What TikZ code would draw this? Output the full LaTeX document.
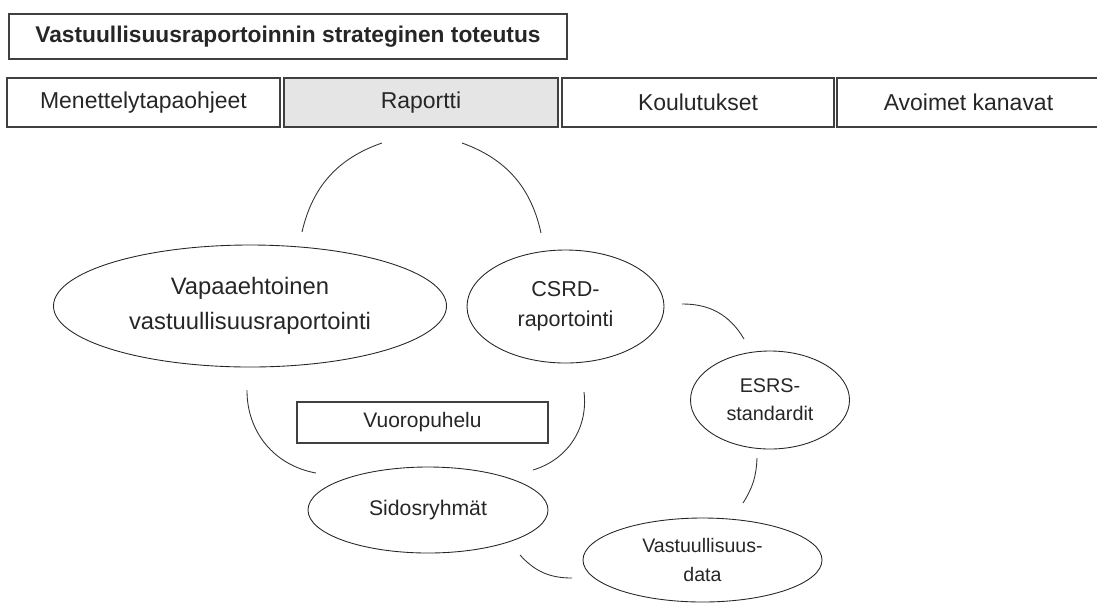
\documentclass[tikz,border=0pt]{standalone}
\usepackage{fontspec}
\setmainfont{Liberation Sans}
\usetikzlibrary{shapes.geometric}

\tikzset{
  box/.style={draw=black!75, line width=0.9pt, inner sep=0pt, text=black!85},
  tabbox/.style={box, minimum height=1.47cm, font={\fontsize{19.6}{24}\selectfont}},
  oval/.style={ellipse, draw=black!85, line width=0.75pt, inner sep=0pt, align=center, text=black!85},
  arcline/.style={draw=black!80, line width=0.75pt}
}

\begin{document}
\begin{tikzpicture}[x=0.03cm, y=-0.03cm]
    \useasboundingbox (0,0) rectangle (1097,603);

    % header
    \node[box, minimum width=16.74cm, minimum height=1.35cm,
          font={\fontsize{19.4}{24}\selectfont\bfseries}] (title) at (288, 36.5)
          {Vastuullisuusraportoinnin strateginen toteutus};

    \node[tabbox, minimum width=8.19cm] (ohjeet) at (143.5, 102.5) {Menettelytapaohjeet};
    \node[tabbox, minimum width=8.22cm, fill=black!10] (raportti) at (421, 102.5) {Raportti};
    \node[tabbox, minimum width=8.16cm] (koulutus) at (698, 102.5) {Koulutukset};
    \node[tabbox, minimum width=7.89cm] (kanavat) at (968.5, 102.5) {Avoimet kanavat};

    % cycle
    \node[oval, minimum width=11.79cm, minimum height=3.66cm,
          font={\fontsize{20.3}{30}\selectfont}] (vapaa) at (250, 306)
          {Vapaaehtoinen\\vastuullisuusraportointi};
    \node[oval, minimum width=5.91cm, minimum height=3.39cm,
          font={\fontsize{18.4}{25.6}\selectfont}] (csrd) at (565.5, 306.5)
          {CSRD-\\raportointi};
    \node[oval, minimum width=4.77cm, minimum height=2.94cm,
          font={\fontsize{16.9}{24}\selectfont}] (esrs) at (770, 400)
          {ESRS-\\standardit};
    \node[oval, minimum width=7.17cm, minimum height=2.52cm,
          font={\fontsize{16.7}{24.7}\selectfont}] (data) at (702.5, 560)
          {Vastuullisuus-\\data};
    \node[oval, minimum width=7.2cm, minimum height=2.58cm,
          font={\fontsize{18.1}{24}\selectfont}] (sidos) at (428, 510)
          {Sidosryhmät};

    \node[box, minimum width=7.53cm, minimum height=1.23cm,
          font={\fontsize{17.9}{24}\selectfont}] (vuoro) at (422.5, 422.5) {Vuoropuhelu};

    % arc ends
    \coordinate (vapaa top) at (302, 232);
    \coordinate (gap left) at (382, 143);
    \coordinate (gap right) at (462, 143);
    \coordinate (csrd top) at (541, 233);
    \coordinate (vapaa low) at (247, 390);
    \coordinate (sidos left) at (316, 473);
    \coordinate (csrd low) at (584, 392);
    \coordinate (sidos right) at (533, 470);
    \coordinate (csrd side) at (682, 304);
    \coordinate (esrs top) at (744, 339);
    \coordinate (esrs low) at (757, 458);
    \coordinate (data top) at (743, 503);
    \coordinate (sidos low) at (520, 555);
    \coordinate (data side) at (572, 578);

    \draw[arcline] (vapaa top) to[bend left=29] (gap left);
    \draw[arcline] (gap right) to[bend left=29] (csrd top);
    \draw[arcline] (vapaa low) to[bend right=40] (sidos left);
    \draw[arcline] (csrd low) to[bend left=40] (sidos right);
    \draw[arcline] (csrd side) to[bend left=30] (esrs top);
    \draw[arcline] (esrs low) to[bend left=15] (data top);
    \draw[arcline] (sidos low) to[bend right=24] (data side);
\end{tikzpicture}
\end{document}
